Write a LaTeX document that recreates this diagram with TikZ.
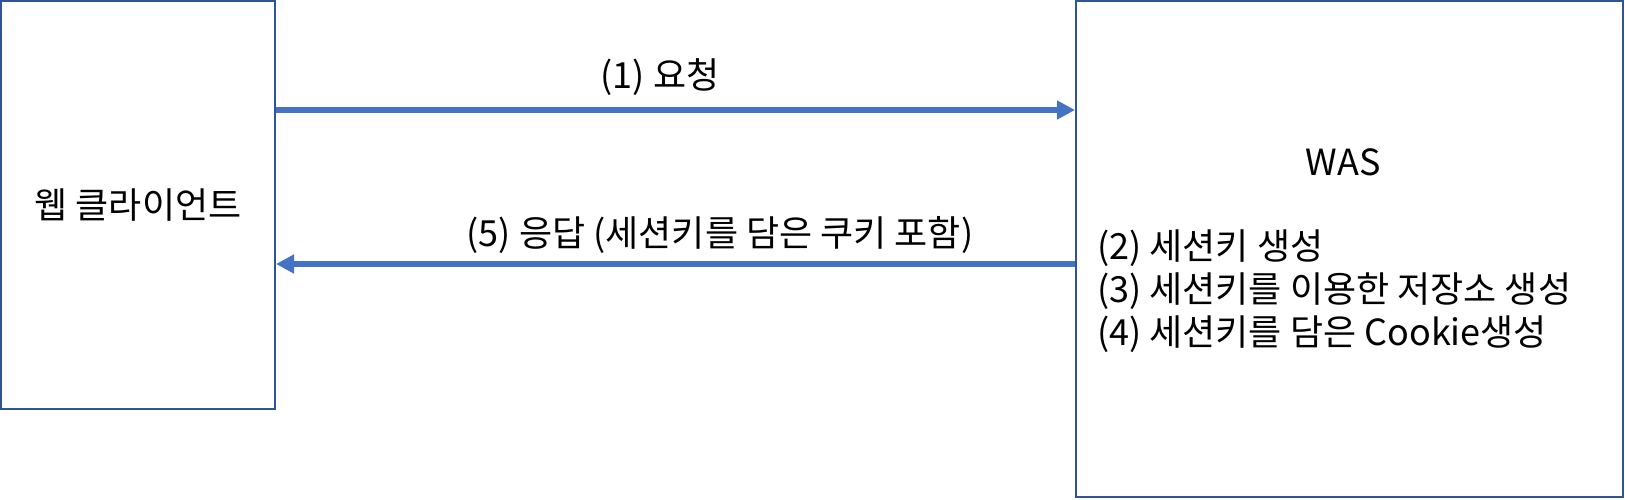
\documentclass[tikz,border=0pt]{standalone}
\usepackage{fontspec}
\setmainfont{Noto Sans CJK KR}
\usetikzlibrary{arrows.meta,positioning}
\definecolor{boxline}{RGB}{47,85,151}
\definecolor{flowline}{RGB}{68,114,196}
\tikzset{
  party/.style={draw=boxline, line width=2pt, rectangle, inner sep=0pt},
  flow/.style={draw=flowline, line width=5.5pt, -{Triangle[length=18pt,width=18pt]}},
  msg/.style={inner sep=0pt, anchor=base, font=\fontsize{36}{43}\selectfont}
}
\begin{document}
\begin{tikzpicture}[x=1pt, y=-1pt]
            \useasboundingbox (0, 0) rectangle (1625, 499);

            \node[party, minimum width=274pt, minimum height=408pt] (client) at (138, 205) {};
            \node[party, minimum width=547pt, minimum height=496pt] (was) at (1349.5, 249) {};
            \node[msg] (clientname) at (138, 218) {웹 클라이언트};
            \node[msg] (wasname) at (1343, 175) {WAS};
            \node[msg, anchor=base west] (step2) at (1097, 259) {(2) 세션키 생성};
            \node[msg, anchor=base west] (step3) at (1097, 302) {(3) 세션키를 이용한 저장소 생성};
            \node[msg, anchor=base west] (step4) at (1097, 345) {(4) 세션키를 담은 Cookie생성};

            \coordinate (req) at (0, 110);
            \coordinate (resp) at (0, 264);
            \draw[flow] (client.east |- req) -- (was.west |- req);
            \draw[flow] (was.west |- resp) -- (client.east |- resp);
            \node[msg] (reqlabel) at (660, 88) {(1) 요청};
            \node[msg] (resplabel) at (720, 246) {(5) 응답 (세션키를 담은 쿠키 포함)};

        \end{tikzpicture}
\end{document}
